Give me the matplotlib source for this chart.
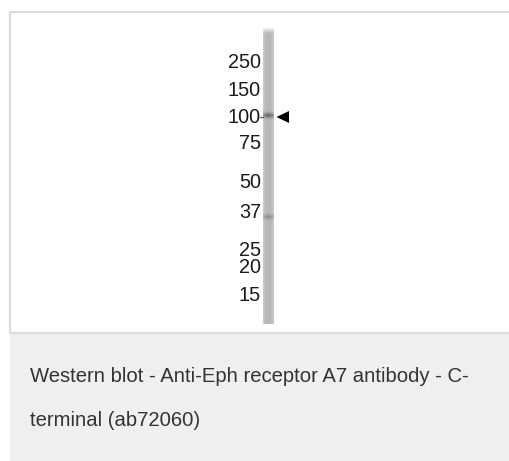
#!/usr/bin/env python3

import numpy as np
import matplotlib
matplotlib.use("Agg")
import matplotlib.pyplot as plt
from matplotlib.patches import Rectangle, Polygon

# marker ladder (kDa) and where each one sits on the blot (pixel rows)
marker_kda = ["250", "150", "100", "75", "50", "37", "25", "20", "15"]
marker_y = [63, 91, 117, 143, 182, 212, 250, 267, 295]

# bands seen in the lane: row, darkness (0..1), half-height
band_y = [116, 217]
band_dark = [0.32, 0.17]
band_h = [1.8, 1.6]

arrow_y = 117
caption = ["Western blot - Anti-Eph receptor A7 antibody - C-",
           "terminal (ab72060)"]

W, H = 510, 461
lane_x0, lane_x1 = 263, 274
lane_y0, lane_y1 = 28, 324


def lane_image():
    rows = np.arange(lane_y0, lane_y1) + 0.5
    cols = np.linspace(-1, 1, 12)
    base = 0.72 + 0.07 * np.abs(cols) ** 3
    img = np.tile(base, (len(rows), 1))
    for y, d, h in zip(band_y, band_dark, band_h):
        prof = d * np.exp(-0.5 * ((rows - y) / h) ** 2)
        img -= prof[:, None] * (1 - 0.4 * np.abs(cols))[None, :]
    # top of the lane fades in
    fade = np.clip((rows - lane_y0) / 6.0, 0, 1)
    img = 1 - (1 - img) * fade[:, None]
    return img


def main():
    fig = plt.figure(figsize=(W / 100, H / 100), dpi=100)
    ax = fig.add_axes([0, 0, 1, 1])

    # figure box and caption panel
    ax.add_patch(Rectangle((10, 333), W - 10, H - 333, facecolor="#eeefee",
                           edgecolor="none", zorder=1))
    ax.add_patch(Rectangle((10.5, 12), W, 320.5, facecolor="white",
                           edgecolor="#dcdcdc", lw=1.6, zorder=1))

    ax.imshow(lane_image(), cmap="gray", vmin=0, vmax=1,
              extent=(lane_x0, lane_x1, lane_y1, lane_y0),
              interpolation="bilinear", aspect="auto", zorder=2)

    for lab, y in zip(marker_kda, marker_y):
        ax.text(261, y, lab, ha="right", va="center", fontsize=14.3,
                family="Liberation Sans", color="#1a1a1a", zorder=3)
    ax.plot([260, 263], [marker_y[2], marker_y[2]], color="#666666", lw=1,
            zorder=3)

    ax.add_patch(Polygon([[276.5, arrow_y], [289, arrow_y - 6],
                          [289, arrow_y + 6]], closed=True,
                         facecolor="black", edgecolor="none", zorder=3))

    for i, line in enumerate(caption):
        ax.text(30, 376 + 44 * i, line, ha="left", va="center",
                fontsize=14.6, family="Liberation Sans", color="#333333",
                zorder=3)

    ax.set_xlim(0, W)
    ax.set_ylim(H, 0)
    ax.axis("off")
    fig.savefig("out.png", dpi=100)


if __name__ == "__main__":
    main()
